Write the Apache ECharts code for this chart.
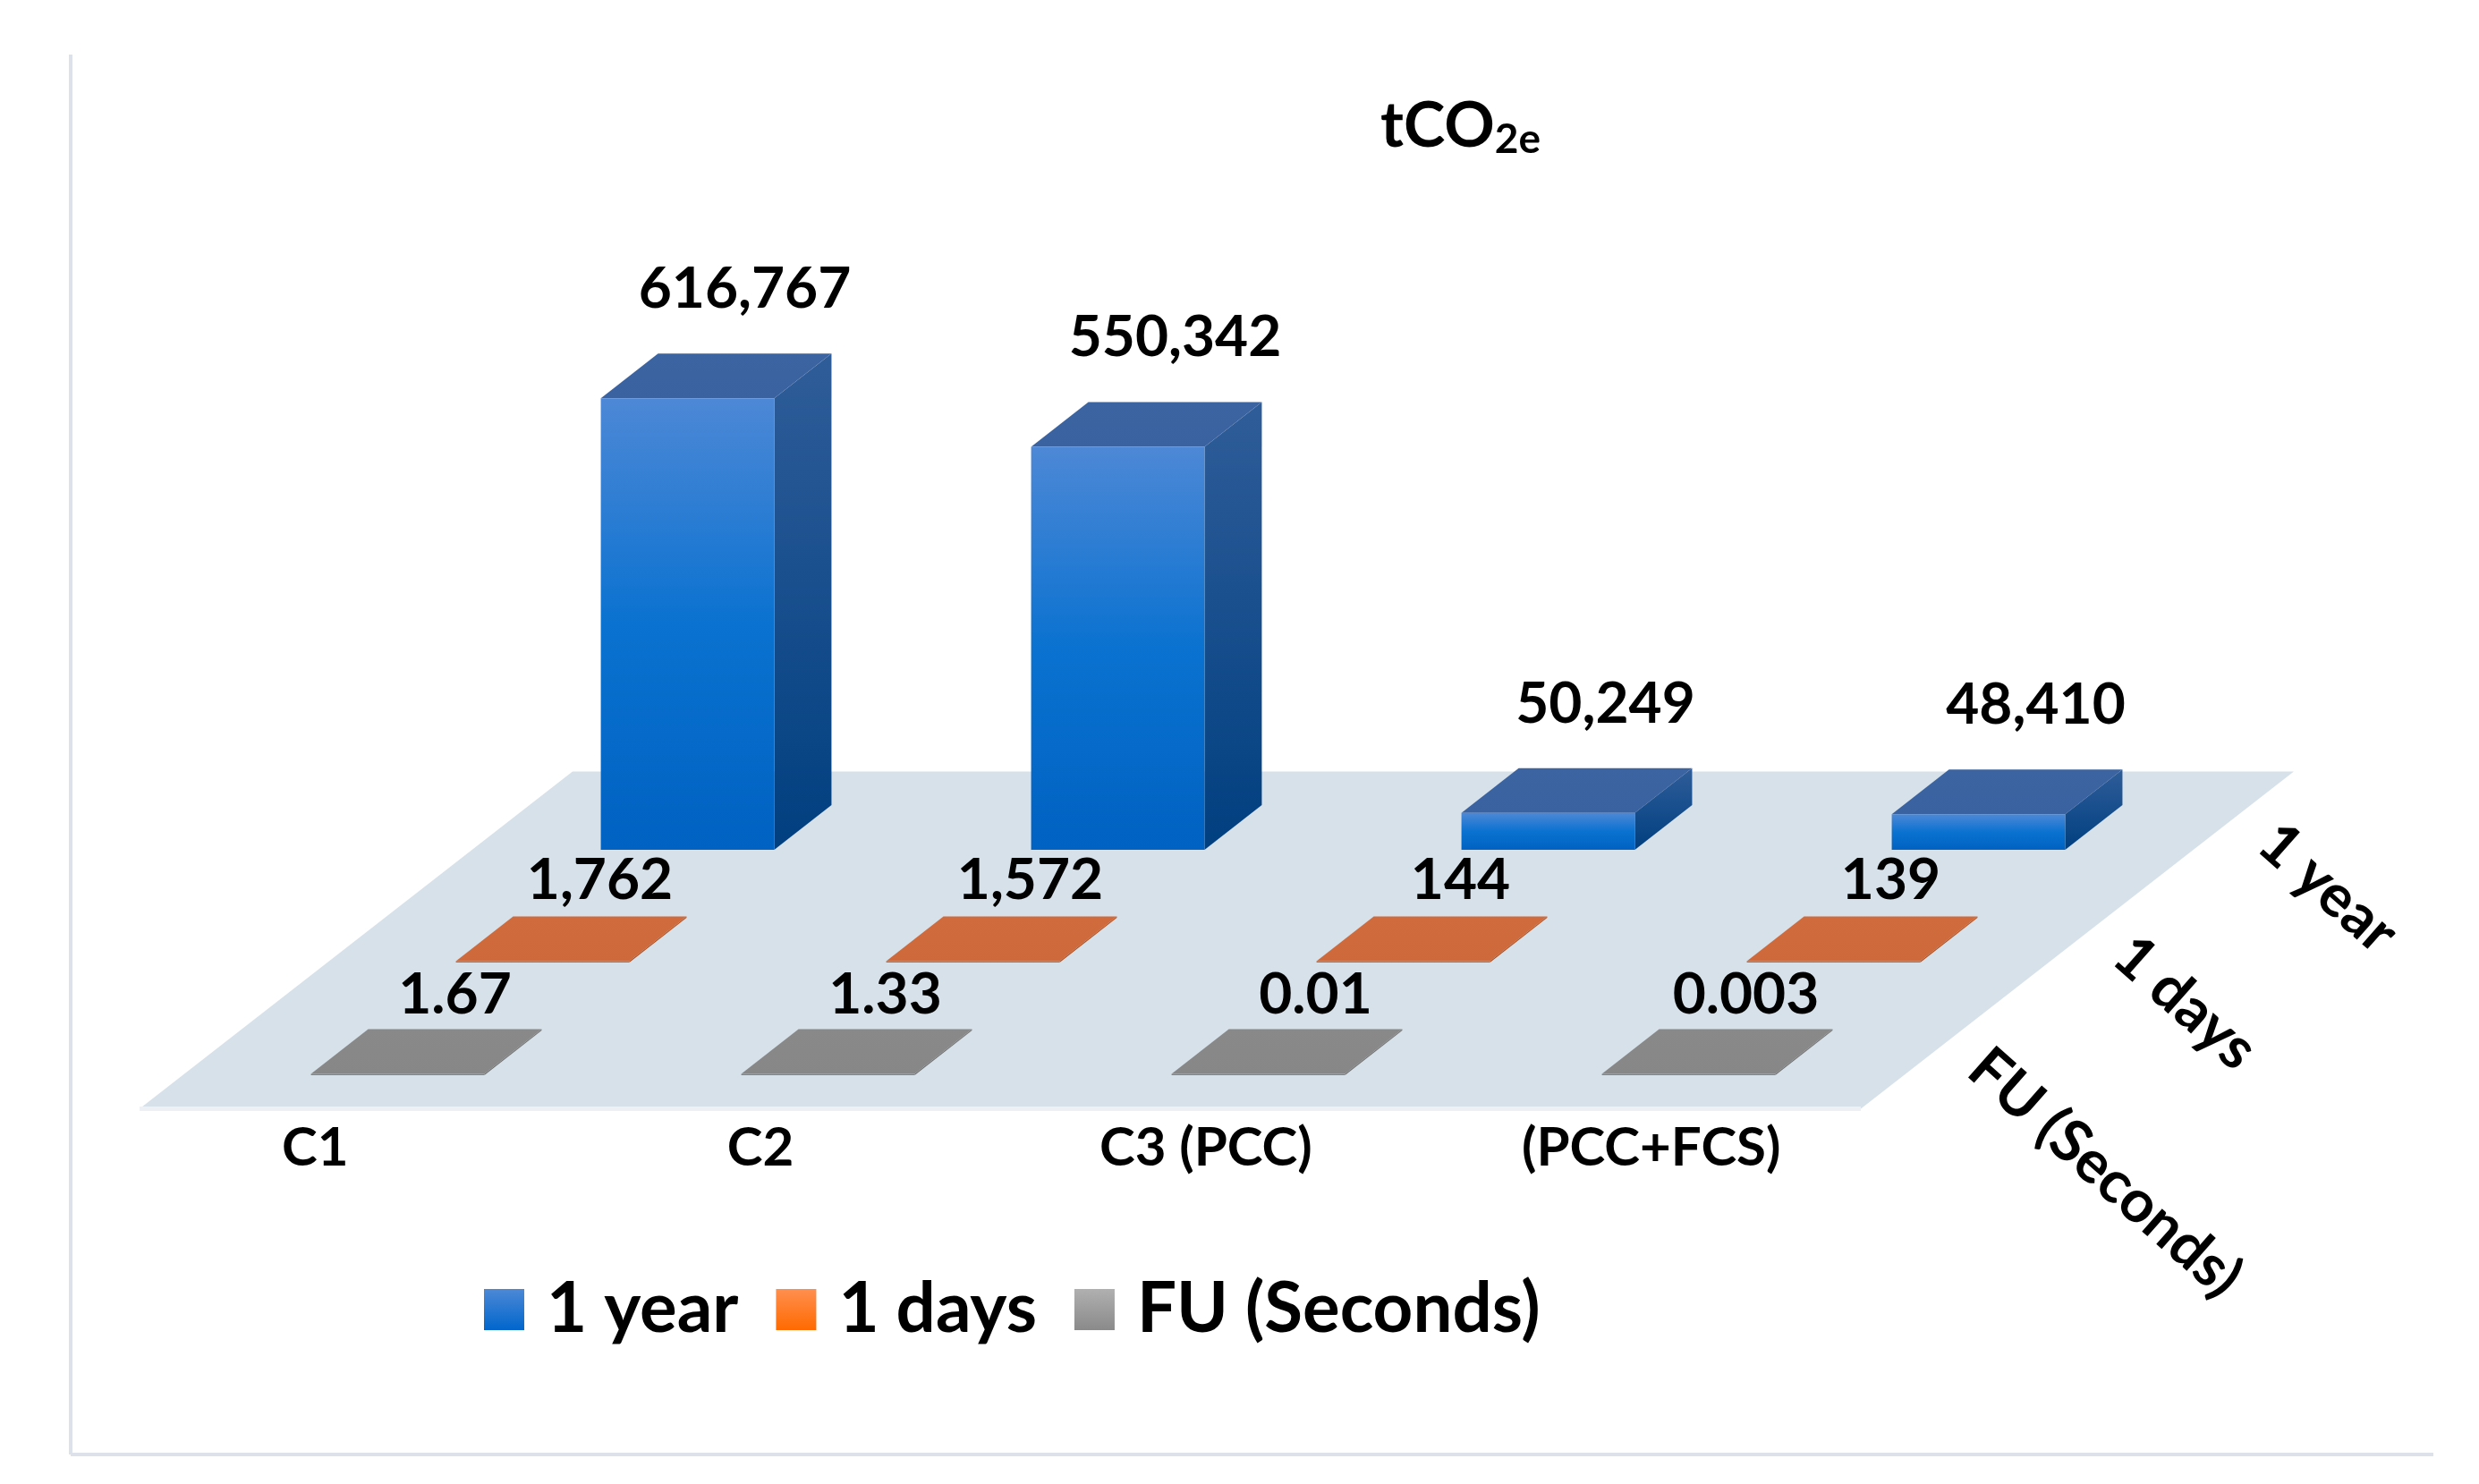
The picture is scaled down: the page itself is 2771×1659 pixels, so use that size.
<!DOCTYPE html>
<html>
<head>
<meta charset="utf-8">
<title>tCO2e</title>
<script src="https://cdn.jsdelivr.net/npm/echarts@6/dist/echarts.min.js"></script>
<style>
  html, body { margin: 0; padding: 0; background: #fff; }
  #chart { width: 2771px; height: 1659px; }
</style>
</head>
<body>
<div id="chart"></div>
<script>
// data
var categories = ['C1', 'C2', 'C3 (PCC)', '(PCC+FCS)'];
var seriesNames = ['1 year', '1 days', 'FU (Seconds)'];
var yearValues = [616767, 550342, 50249, 48410];
var dayValues = [1762, 1572, 144, 139];
var fuValues = [1.67, 1.33, 0.01, 0.003];

var FONT = 'Lato';
var BAR_RATIO = 0.403;       // bar width / category band
var DEPTH = [64, -50];       // depth of one box, px
var ROW_STEP = [-162, 126];  // shift from one row to the next one in front
var FLOOR_PAD = 0.75;        // floor margin, in box depths
var ROWS = 3;

function fmt(v) {
  return v >= 1000 ? v.toLocaleString('en-US') : String(v);
}

function vgrad(colors) {
  return new echarts.graphic.LinearGradient(0, 0, 0, 1, colors.map(function (c, i) {
    return { offset: i / (colors.length - 1), color: c };
  }));
}

var faces = [
  { front: ['#4d88d6', '#0a72d0', '#0062c2'], top: ['#3b64a1', '#3a62a0'], side: ['#2f5d99', '#003f80'] },
  { front: ['#d46b3b', '#c65a2a'], top: ['#d06b3d', '#ce693b'], side: ['#b8531f', '#a84a1a'] },
  { front: ['#8c8c8c', '#7c7c7c'], top: ['#898989', '#878787'], side: ['#777777', '#6c6c6c'] }
];
var labelGap = [72, 40, 38];

function rowRender(row) {
  return function (params, api) {
    var c = api.value(0), v = api.value(1);
    var base = api.coord([c, 0]);
    var top = api.coord([c, v]);
    var w = api.size([1, 0])[0] * BAR_RATIO;
    var sx = row * ROW_STEP[0], sy = row * ROW_STEP[1];
    var x0 = base[0] - w / 2 + sx;
    var y0 = base[1] + sy;
    var yt = Math.min(top[1] + sy, y0 - 1.5);
    var dx = DEPTH[0], dy = DEPTH[1];
    var f = faces[row];
    return {
      type: 'group',
      children: [
        { type: 'polygon', shape: { points: [[x0 + w, yt], [x0 + w + dx, yt + dy], [x0 + w + dx, y0 + dy], [x0 + w, y0]] },
          style: { fill: vgrad(f.side) } },
        { type: 'polygon', shape: { points: [[x0, yt], [x0 + w, yt], [x0 + w + dx, yt + dy], [x0 + dx, yt + dy]] },
          style: { fill: vgrad(f.top) } },
        { type: 'rect', shape: { x: x0, y: yt, width: w, height: y0 - yt },
          style: { fill: vgrad(f.front) } },
        { type: 'text', x: x0 + w / 2 + dx, y: yt + dy - labelGap[row],
          style: { text: fmt(v), fill: '#000', fontFamily: FONT, fontWeight: 'bold', fontSize: 64,
                   align: 'center', verticalAlign: 'middle' } }
      ]
    };
  };
}

function floorRender(params, api) {
  var cs = params.coordSys;
  var by = cs.y + cs.height;
  var n = ROWS - 1, p = 1 + FLOOR_PAD;
  var bl = [cs.x + DEPTH[0] * p, by + DEPTH[1] * p];
  var fl = [cs.x + n * ROW_STEP[0] - DEPTH[0] * FLOOR_PAD, by + n * ROW_STEP[1] - DEPTH[1] * FLOOR_PAD];
  return {
    type: 'group',
    children: [
      { type: 'polygon', shape: { points: [bl, [bl[0] + cs.width, bl[1]], [fl[0] + cs.width, fl[1]], fl] },
        style: { fill: '#d7e1ea' } },
      { type: 'line', shape: { x1: fl[0], y1: fl[1], x2: fl[0] + cs.width, y2: fl[1] },
        style: { stroke: '#edf1f5', lineWidth: 5 } }
    ]
  };
}

// category names sit under the front edge of the floor, spread a little wider
function categoryRender(params, api) {
  var cs = params.coordSys;
  var by = cs.y + cs.height;
  var n = ROWS - 1;
  var shiftX = n * ROW_STEP[0] - DEPTH[0] * FLOOR_PAD;
  var mid = cs.x + cs.width / 2 + shiftX;
  var bx = api.coord([api.value(0), 0])[0] + shiftX;
  return {
    type: 'text',
    x: mid + (bx - mid) * 1.035 - 19,
    y: by + n * ROW_STEP[1] - DEPTH[1] * FLOOR_PAD + 44,
    style: { text: categories[params.dataIndex], fill: '#000', fontFamily: FONT, fontWeight: 'bold',
             fontSize: 60, align: 'center', verticalAlign: 'middle' }
  };
}

function depthRender(params, api) {
  var cs = params.coordSys;
  var by = cs.y + cs.height;
  var r = params.dataIndex;
  return {
    type: 'text',
    x: cs.x + cs.width + r * ROW_STEP[0] + DEPTH[0] / 2 + 50,
    y: by + r * ROW_STEP[1] + DEPTH[1] / 2 + 8,
    rotation: -41.5 * Math.PI / 180,
    style: { text: seriesNames[r], fill: '#000', fontFamily: FONT, fontWeight: 'bold',
             fontSize: 66, align: 'left', verticalAlign: 'middle' }
  };
}

function pairs(values) {
  return values.map(function (v, i) { return [i, v]; });
}

var chart = echarts.init(document.getElementById('chart'));
chart.setOption({
  animation: false,
  backgroundColor: '#fff',
  title: {
    text: '{a|tCO}{s|2e}',
    left: 1538,
    top: 98,
    textStyle: {
      rich: {
        a: { fontFamily: FONT, fontWeight: 'bold', fontSize: 70, color: '#000' },
        s: { fontFamily: FONT, fontWeight: 'bold', fontSize: 46, color: '#000',
             padding: [30, 0, 0, 0], verticalAlign: 'bottom' }
      }
    }
  },
  legend: {
    left: 536,
    top: 1420,
    icon: 'rect',
    itemWidth: 45,
    itemHeight: 46,
    itemGap: 42,
    selectedMode: false,
    textStyle: { fontFamily: FONT, fontWeight: 'bold', fontSize: 78, color: '#000', padding: [0, 0, 0, 20] },
    data: [
      { name: seriesNames[0], itemStyle: { color: vgrad(['#4d88d6', '#0066cc']) } },
      { name: seriesNames[1], itemStyle: { color: vgrad(['#ff8f4f', '#ff6a00']) } },
      { name: seriesNames[2], itemStyle: { color: vgrad(['#b0b0b0', '#8a8a8a']) } }
    ]
  },
  grid: { left: 528, right: 319, top: 377, bottom: 709 },
  xAxis: { type: 'category', data: categories, show: false },
  yAxis: { type: 'value', min: 0, max: 700000, show: false },
  graphic: [
    { type: 'line', shape: { x1: 79, y1: 61, x2: 79, y2: 1626 }, style: { stroke: '#dde2ea', lineWidth: 4 } },
    { type: 'line', shape: { x1: 79, y1: 1626, x2: 2720, y2: 1626 }, style: { stroke: '#dde2ea', lineWidth: 4 } }
  ],
  series: [
    { name: 'floor', type: 'custom', renderItem: floorRender, data: [0], silent: true },
    { name: seriesNames[0], type: 'custom', renderItem: rowRender(0), data: pairs(yearValues),
      itemStyle: { color: '#0066cc' } },
    { name: seriesNames[1], type: 'custom', renderItem: rowRender(1), data: pairs(dayValues),
      itemStyle: { color: '#ff6a00' } },
    { name: seriesNames[2], type: 'custom', renderItem: rowRender(2), data: pairs(fuValues),
      itemStyle: { color: '#8a8a8a' } },
    { name: 'categories', type: 'custom', renderItem: categoryRender,
      data: categories.map(function (c, i) { return [i, 0]; }), silent: true },
    { name: 'rows', type: 'custom', renderItem: depthRender, data: [0, 1, 2], silent: true }
  ]
});
</script>
</body>
</html>
